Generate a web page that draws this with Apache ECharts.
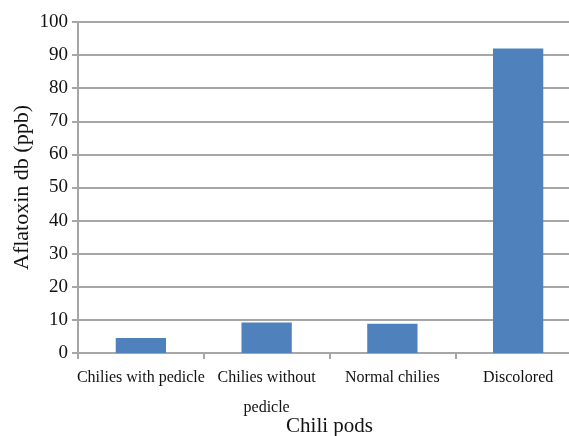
<!DOCTYPE html>
<html>
<head>
<meta charset="utf-8">
<script src="https://cdn.jsdelivr.net/npm/echarts@6/dist/echarts.min.js"></script>
<style>
  html, body { margin: 0; padding: 0; background: #fff; }
  #chart { width: 569px; height: 436px; }
</style>
</head>
<body>
<div id="chart"></div>
<script>
// Aflatoxin content of chili pod types (dry basis, ppb)
const categories = ['Chilies with pedicle', 'Chilies without\npedicle', 'Normal chilies', 'Discolored'];
const aflatoxin = [4.5, 9.2, 8.8, 92];
const yTicks = { min: 0, max: 100, interval: 10 };

const chart = echarts.init(document.getElementById('chart'));
const font = '"Liberation Serif", "Times New Roman", serif';
const gray = '#a6a6a6';

chart.setOption({
  animation: false,
  grid: { left: 78, top: 22, width: 503, height: 331, containLabel: false, outerBoundsMode: 'none' },
  xAxis: {
    type: 'category',
    data: categories,
    name: 'Chili pods',
    nameLocation: 'middle',
    nameGap: 63,
    nameMoveOverlap: false,
    nameTextStyle: { fontFamily: font, fontSize: 21, color: '#111' },
    axisLine: { lineStyle: { color: gray, width: 2 } },
    axisTick: { show: true, length: 6, lineStyle: { color: gray, width: 2 } },
    axisLabel: { fontFamily: font, fontSize: 16, color: '#111', margin: 10, lineHeight: 30, interval: 0 }
  },
  yAxis: {
    type: 'value',
    min: yTicks.min, max: yTicks.max, interval: yTicks.interval,
    name: 'Aflatoxin db (ppb)',
    nameLocation: 'middle',
    nameGap: 45,
    nameMoveOverlap: false,
    nameTextStyle: { fontFamily: font, fontSize: 22, color: '#111' },
    axisLine: { show: true, lineStyle: { color: gray, width: 2 } },
    axisTick: { show: true, length: 6, lineStyle: { color: gray, width: 2 } },
    axisLabel: { fontFamily: font, fontSize: 19, color: '#111', margin: 10 },
    splitLine: { lineStyle: { color: gray, width: 2 } }
  },
  series: [{
    type: 'bar',
    data: aflatoxin,
    barWidth: '40%',
    itemStyle: { color: '#4f81bd' }
  }]
});
</script>
</body>
</html>
